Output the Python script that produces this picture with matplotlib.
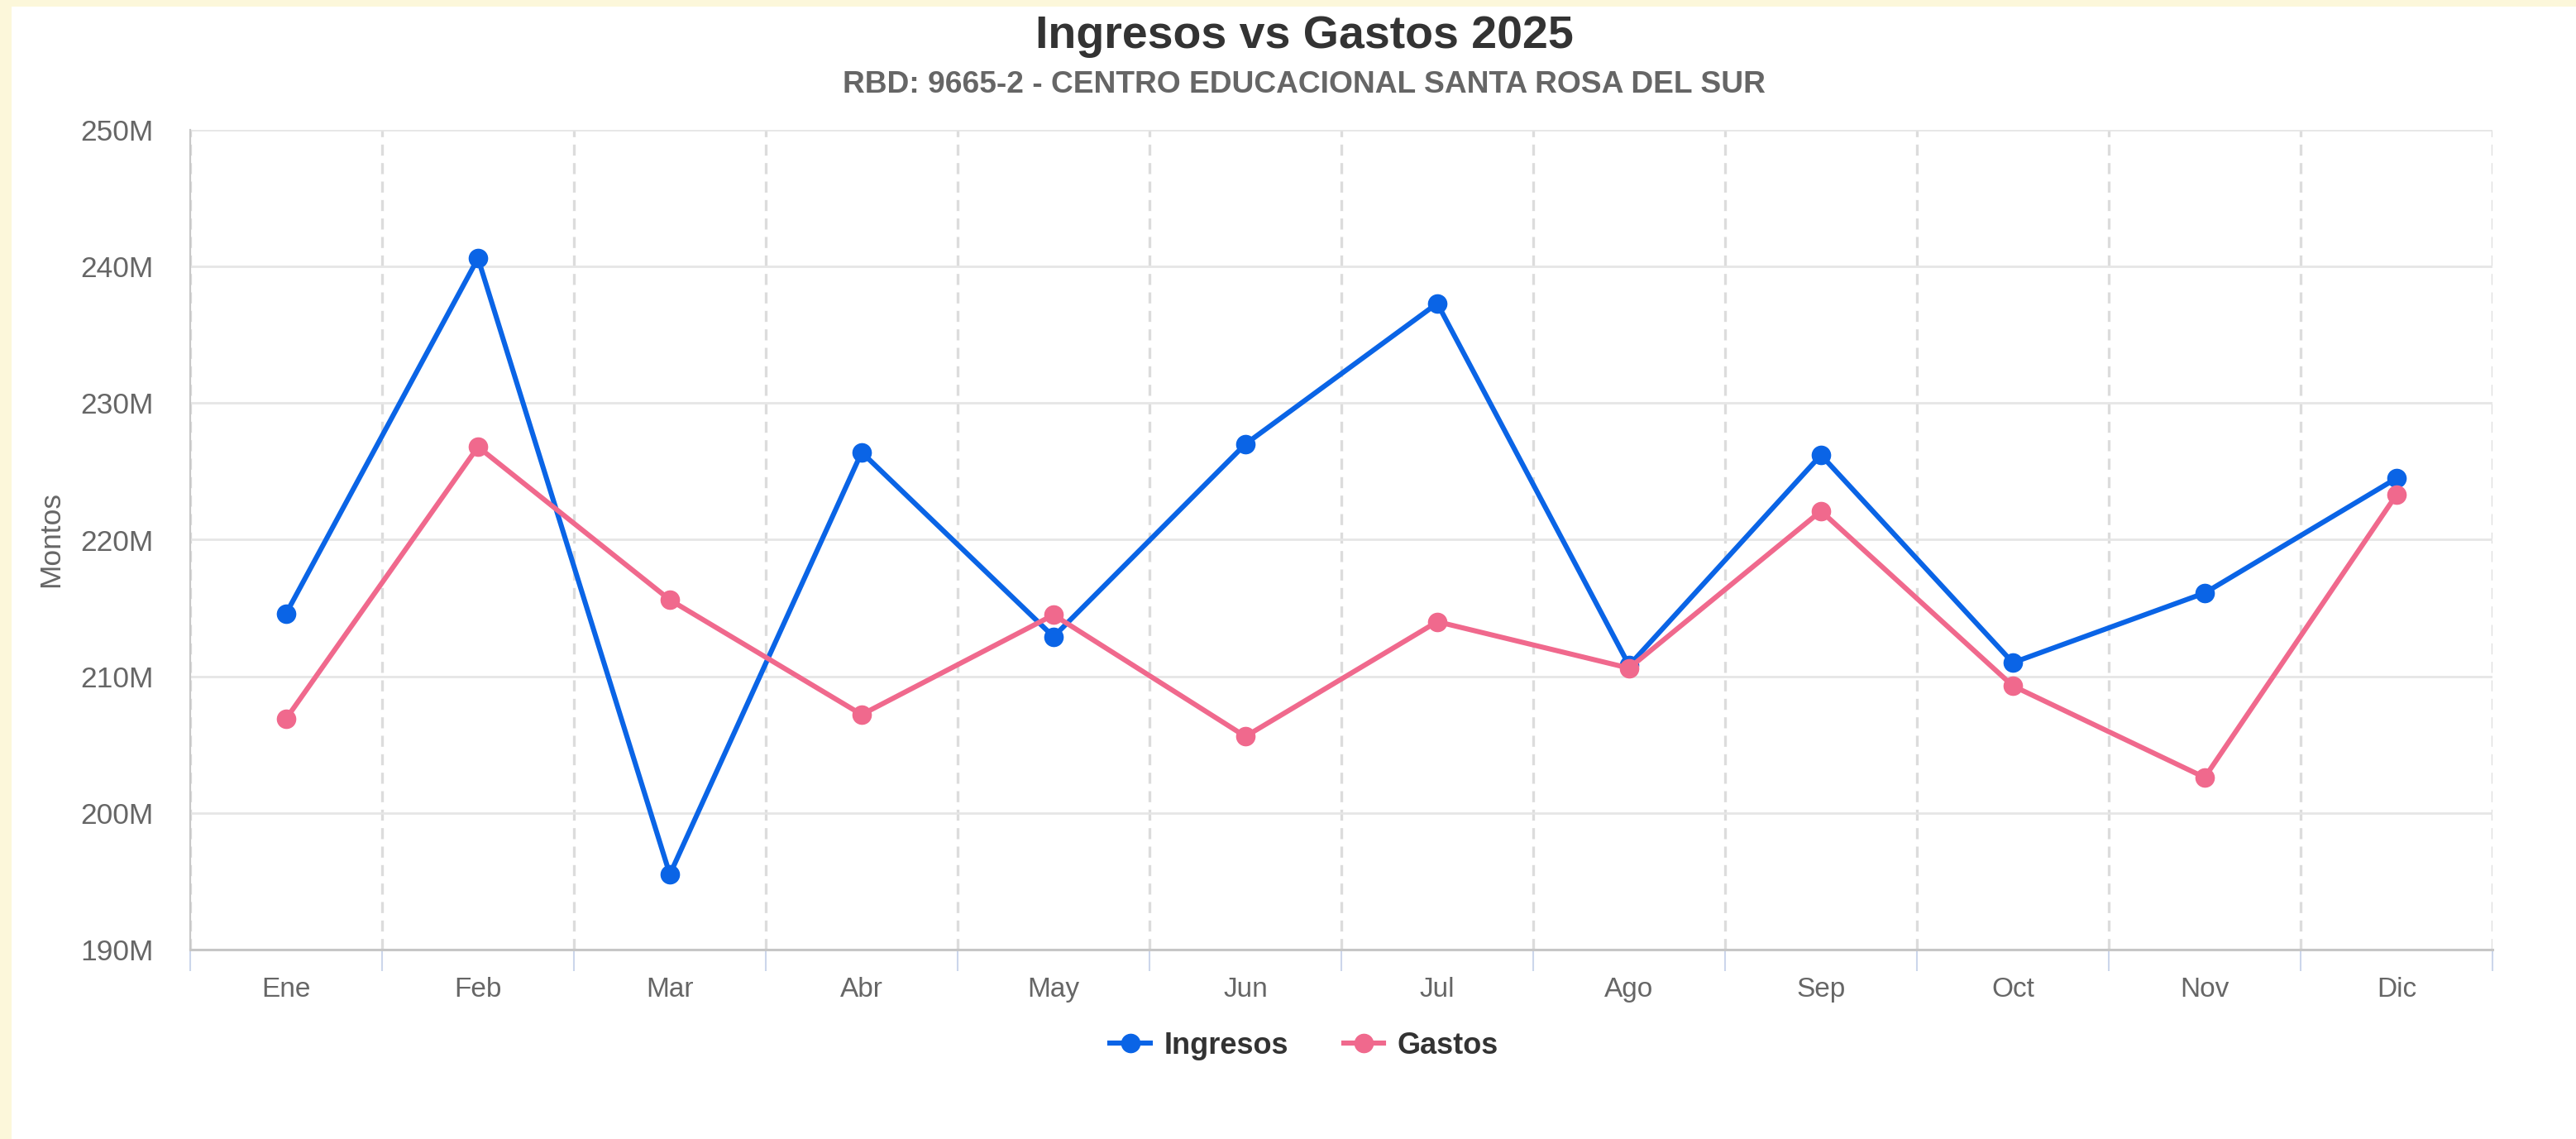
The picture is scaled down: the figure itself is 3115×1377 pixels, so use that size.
import matplotlib
matplotlib.use("Agg")
import matplotlib.pyplot as plt
from matplotlib.patches import Rectangle

# datos (millones)
meses = ["Ene", "Feb", "Mar", "Abr", "May", "Jun", "Jul", "Ago", "Sep", "Oct", "Nov", "Dic"]
ingresos = [214.6, 240.6, 195.5, 226.4, 212.9, 227.0, 237.3, 210.8, 226.2, 211.0, 216.1, 224.5]
gastos = [206.9, 226.8, 215.6, 207.2, 214.5, 205.6, 214.0, 210.6, 222.1, 209.3, 202.6, 223.3]
y_ticks = [190, 200, 210, 220, 230, 240, 250]

titulo = "Ingresos vs Gastos 2025"
subtitulo = "RBD: 9665-2 - CENTRO EDUCACIONAL SANTA ROSA DEL SUR"

c_ing = "#0a64e6"
c_gas = "#f0698d"

plt.rcParams["font.family"] = ["Liberation Sans", "DejaVu Sans"]

W, H = 3115, 1377
fig = plt.figure(figsize=(W / 100, H / 100), dpi=100, facecolor="#fcf7da")
# tarjeta blanca
fig.patches.append(Rectangle((14 / W, 0), 1, 1 - 8 / H, transform=fig.transFigure,
                             facecolor="white", edgecolor="none", zorder=-10))

ax = fig.add_axes([230 / W, 1 - 1148 / H, (3014 - 230) / W, (1148 - 157) / H])
ax.set_facecolor("white")

x = list(range(len(meses)))
ax.plot(x, ingresos, color=c_ing, lw=4.4, marker="o", markersize=16, label="Ingresos", zorder=3)
ax.plot(x, gastos, color=c_gas, lw=4.4, marker="o", markersize=16, label="Gastos", zorder=3)

ax.set_xlim(-0.5, len(meses) - 0.5)
ax.set_ylim(190, 250)

ax.set_yticks(y_ticks)
ax.set_yticklabels([str(v) + "M" for v in y_ticks])
ax.tick_params(axis="y", length=0, pad=32, labelsize=25.5, labelcolor="#666666")

ax.set_xticks(x)
ax.set_xticklabels(meses)
ax.set_xticks([i - 0.5 for i in range(len(meses) + 1)], minor=True)
ax.tick_params(axis="x", which="major", length=0, pad=24, labelsize=24, labelcolor="#666666")
ax.tick_params(axis="x", which="minor", length=18.7, width=1.5, color="#ccd6eb")

ax.grid(axis="y", which="major", color="#e6e6e6", lw=2, zorder=0)
ax.grid(axis="x", which="minor", color="#dcdcdc", lw=2.4, ls=(0, (4, 2.7)), zorder=0)
ax.grid(axis="x", which="major", visible=False)

for s in ["top", "right"]:
    ax.spines[s].set_visible(False)
ax.spines["left"].set_color("#c8c8c8")
ax.spines["left"].set_linewidth(1.6)
ax.spines["bottom"].set_color("#c6c6c6")
ax.spines["bottom"].set_linewidth(2.2)

fig.text(62 / W, 1 - 652 / H, "Montos", rotation=90, ha="center", va="center",
         fontsize=25.5, color="#666666")

fig.text(1577 / W, 1 - 44 / H, titulo, ha="center", va="center",
         fontsize=40, fontweight="bold", color="#333333")
fig.text(1577 / W, 1 - 103 / H, subtitulo, ha="center", va="center",
         fontsize=26.7, fontweight="bold", color="#666666")

leg = fig.legend(loc="center", bbox_to_anchor=(1577 / W, 1 - 1264 / H), ncol=2,
                 frameon=False, handlelength=1.35, handletextpad=0.45, columnspacing=1.85,
                 prop={"size": 26, "weight": "bold"})
for t in leg.get_texts():
    t.set_color("#333333")

fig.savefig("out.png", dpi=100, facecolor=fig.get_facecolor())
